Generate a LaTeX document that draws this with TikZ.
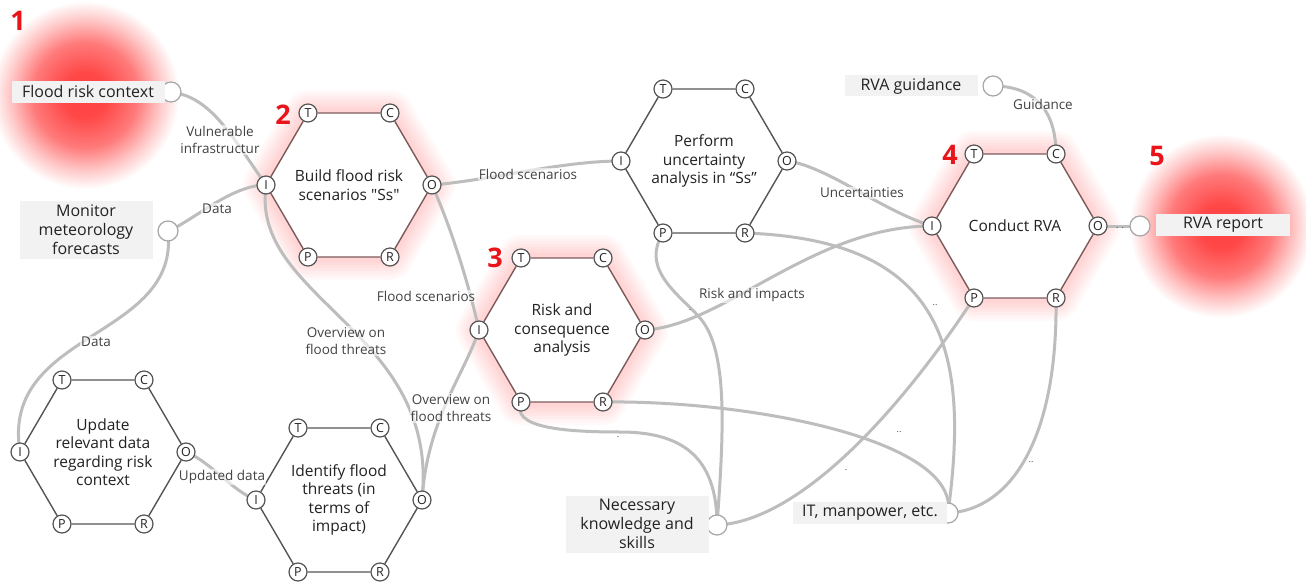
\documentclass[tikz,border=0pt]{standalone}
\usepackage{fontspec}
\setmainfont{Open Sans}[Ligatures=TeXOff]
\pgfdeclarelayer{glow}
\pgfdeclarelayer{links}
\pgfsetlayers{glow,links,main}
\pgfdeclareradialshading{blob}{\pgfpoint{0bp}{0bp}}{color(0bp)=(red!74); color(6bp)=(red!72); color(14bp)=(red!52); color(20bp)=(red!22); color(25bp)=(white); color(50bp)=(white)}
\definecolor{linkc}{HTML}{BDBDBD}
\definecolor{edgec}{HTML}{555555}
\definecolor{redge}{HTML}{7D5A5A}
\definecolor{boxc}{HTML}{F2F2F2}
\definecolor{txt}{HTML}{222222}
\definecolor{numred}{HTML}{E8141A}
\tikzset{
  port/.style={circle, draw=edgec, fill=white, inner sep=0pt, minimum size=18pt, line width=1.2pt, font=\fontsize{12.5}{12}\selectfont, text=txt},
  hexedge/.style={draw=#1, line width=1.4pt},
  fntext/.style={align=center, font=\fontsize{15.5}{18.5}\selectfont, text=txt},
  link/.style={draw=linkc, line width=3pt, line cap=round},
  lbl/.style={align=center, font=\fontsize{13.5}{17}\selectfont, text=txt!85, fill=white, fill opacity=0.6, text opacity=1, inner sep=1pt},
  dotlbl/.style={font=\fontsize{9}{9}\selectfont, text=txt!80, inner sep=1pt},
  extbox/.style={fill=boxc, align=center, font=\fontsize{16}{19}\selectfont, text=txt, inner sep=0pt},
  extport/.style={circle, draw=gray!70, fill=white, minimum size=20pt, inner sep=0pt, line width=1.2pt},
  num/.style={font=\fontsize{27}{27}\selectfont\bfseries, text=numred}
}
\newcommand\hexglow[2]{%
  \begin{pgfonlayer}{glow}
  \foreach \w in {46,40,34,28,22,16,10}{%
    \draw[red, opacity=0.022, line width=\w pt, line join=round] (#1-41,#2-72) -- (#1+41,#2-72) -- (#1+83,#2) -- (#1+41,#2+72) -- (#1-41,#2+72) -- (#1-83,#2) -- cycle;}
  \fill[white] (#1-41,#2-72) -- (#1+41,#2-72) -- (#1+83,#2) -- (#1+41,#2+72) -- (#1-41,#2+72) -- (#1-83,#2) -- cycle;
  \end{pgfonlayer}}
\newcommand\hexfn[5]{%
  \coordinate (#1) at (#2,#3);
  \node[port] (#1-T) at (#2-41,#3-72) {T};
  \node[port] (#1-C) at (#2+41,#3-72) {C};
  \node[port] (#1-I) at (#2-83,#3) {I};
  \node[port] (#1-O) at (#2+83,#3) {O};
  \node[port] (#1-P) at (#2-41,#3+72) {P};
  \node[port] (#1-R) at (#2+41,#3+72) {R};
  \draw[hexedge=#5] (#1-T) -- (#1-C) (#1-C) -- (#1-O) (#1-O) -- (#1-R) (#1-R) -- (#1-P) (#1-P) -- (#1-I) (#1-I) -- (#1-T);
  \node[fntext] (#1-txt) at (#1) {#4};}
\begin{document}
\begin{tikzpicture}[x=1pt,y=-1pt]
\useasboundingbox (0,0) rectangle (1306,583);
% glow blobs
\begin{pgfonlayer}{glow}
\fill[white] (0,0) rectangle (1306,583);
\shade[shading=blob] (85,95) circle[radius=94pt];
\shade[shading=blob] (1221,226) circle[radius=92pt];
\end{pgfonlayer}
\hexglow{349}{185}
\hexglow{562}{330}
\hexglow{1015}{226}
% functions
\hexfn{H2}{349}{185}{Build flood risk\\scenarios "Ss"}{redge}
\hexfn{HU}{704}{161}{Perform\\uncertainty\\analysis in “Ss”}{edgec}
\hexfn{H4}{1015}{226}{Conduct RVA}{redge}
\hexfn{H3}{562}{330}{Risk and\\consequence\\analysis}{redge}
\hexfn{HD}{103}{452}{Update\\relevant data\\regarding risk\\context}{edgec}
\hexfn{HF}{339}{500}{Identify flood\\threats (in\\terms of\\impact)}{edgec}
% external ports and boxes
\node[extport] (frc-c) at (171,92) {};
\node[extport] (mon-c) at (168,231) {};
\node[extport] (rvag-c) at (993,86) {};
\node[extport] (rvar-c) at (1140,226) {};
\node[extport] (nks-c) at (717,525) {};
\node[extport] (itm-c) at (948,513) {};
\node[extbox, minimum width=153pt, minimum height=22pt] (frc) at (88,92) {Flood risk context};
\node[extbox, minimum width=133pt, minimum height=58pt] (mon) at (86,230) {Monitor\\meteorology\\forecasts};
\node[extbox, minimum width=133pt, minimum height=21pt] (rvag) at (911,86) {RVA guidance};
\node[extbox, minimum width=134pt, minimum height=22pt] (rvar) at (1223,225) {RVA report};
\node[extbox, minimum width=143pt, minimum height=57pt] (nks) at (637,524) {Necessary\\knowledge and\\skills};
\node[extbox, minimum width=154pt, minimum height=22pt] (itm) at (870,513) {IT, manpower, etc.};
% numbers
\node[num] (n1) at (18,21) {1};
\node[num] (n2) at (283,115) {2};
\node[num] (n3) at (495,258) {3};
\node[num] (n4) at (950,155) {4};
\node[num] (n5) at (1157,156) {5};
% links
\begin{pgfonlayer}{links}
\draw[link] (frc-c.center) .. controls +(40,5) and +(-35,-50) .. (H2-I.center);
\draw[link] (mon-c.center) .. controls +(25,-10) and +(-35,0) .. (H2-I.center);
\draw[link] (mon-c.center) .. controls (180,340) and (0,330) .. (HD-I.center);
\draw[link] (H2-O.center) .. controls +(60,-5) and +(-60,0) .. (HU-I.center);
\draw[link] (H2-O.center) .. controls +(20,45) and +(-10,-45) .. (H3-I.center);
\draw[link] (H2-I.center) .. controls (250,300) and (440,330) .. (HF-O.center);
\draw[link] (HF-O.center) .. controls +(5,-80) and +(-15,45) .. (H3-I.center);
\draw[link] (HD-O.center) .. controls +(25,10) and +(-25,-10) .. (HF-I.center);
\draw[link] (HU-O.center) .. controls +(40,5) and +(-50,-15) .. (H4-I.center);
\draw[link] (H3-O.center) .. controls (725,325) and (813,226) .. (H4-I.center);
\draw[link] (rvag-c.center) .. controls +(40,0) and +(0,-45) .. (H4-C.center);
\draw[link] (H4-O.center) -- (rvar-c.center);
\draw[link] (nks-c.center) .. controls (724,430) and (728,350) .. (700,318) .. controls (680,295) and (640,270) .. (HU-P.center);
\draw[link] (nks-c.center) .. controls +(0,-70) and +(60,0) .. (620,432) .. controls +(-60,0) and +(-10,25) .. (H3-P.center);
\draw[link] (nks-c.center) .. controls (790,522) and (885,433) .. (H4-P.center);
\draw[link] (HU-R.center) .. controls (945,240) and (970,350) .. (itm-c.center);
\draw[link] (H3-R.center) .. controls (750,400) and (960,440) .. (itm-c.center);
\draw[link] (H4-R.center) .. controls (1058,440) and (1010,510) .. (itm-c.center);
\end{pgfonlayer}
% labels
\node[lbl] (lb1) at (220,140) {Vulnerable\\infrastructur};
\node[lbl] (lb2) at (217,209) {Data};
\node[lbl] (lb3) at (96,342) {Data};
\node[lbl] (lb4) at (528,174) {Flood scenarios};
\node[lbl] (lb5) at (426,296) {Flood scenarios};
\node[lbl] (lb6) at (346,341) {Overview on\\flood threats};
\node[lbl] (lb7) at (451,408) {Overview on\\flood threats};
\node[lbl] (lb8) at (222,477) {Updated data};
\node[lbl] (lb9) at (862,193) {Uncertainties};
\node[lbl] (lb10) at (752,295) {Risk and impacts};
\node[lbl] (lb11) at (1043,104) {Guidance};
\node[dotlbl] (lb12) at (1120,228) {.\,\,.};
\node[dotlbl] (lb13) at (690,310) {.};
\node[dotlbl] (lb14) at (618,437) {.};
\node[dotlbl] (lb15) at (846,470) {.};
\node[dotlbl] (lb16) at (935,305) {..};
\node[dotlbl] (lb17) at (899,432) {..};
\node[dotlbl] (lb18) at (1031,462) {..};
\end{tikzpicture}
\end{document}
